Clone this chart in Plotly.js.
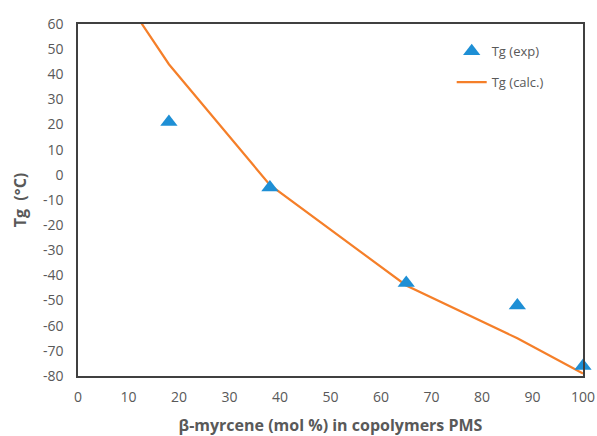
<!DOCTYPE html>
<html><head><meta charset="utf-8">
<script src="https://cdn.plot.ly/plotly-3.0.1.min.js"></script>
<style>html,body{margin:0;padding:0;background:#fff}#chart{width:597px;height:436px}</style>
</head><body><div id="chart"></div>
<script>
// Experimental Tg
const expX = [18, 38, 65, 87, 100];
const expY = [21, -5, -43, -52, -76];
// Calculated Tg
const calcX = [0, 18, 38, 65, 87, 100];
const calcY = [98, 44, -4, -44, -65, -79];
const xTicks = [0,10,20,30,40,50,60,70,80,90,100];
const yTicks = [60,50,40,30,20,10,0,-10,-20,-30,-40,-50,-60,-70,-80];

const grey = '#595959';
const font = 'Open Sans, Liberation Sans, sans-serif';

const traces = [
  {x: calcX, y: calcY, mode: 'lines', name: 'Tg (calc.)', legendgroup: 'b', legendrank: 2,
   line: {color: '#F57F29', width: 2.2}, cliponaxis: true},
  {x: expX, y: expY, mode: 'markers', name: 'Tg (exp)', legendgroup: 'a', legendrank: 1,
   marker: {symbol: 'triangle-up', size: 15, color: '#1E8FD5'}, cliponaxis: false}
];

const layout = {
  width: 597, height: 436,
  margin: {l: 78, r: 14, t: 24, b: 60},
  paper_bgcolor: '#fff', plot_bgcolor: '#fff',
  font: {family: font, color: grey, size: 13},
  showlegend: true,
  legend: {x: 0.74, y: 0.965, xanchor: 'left', yanchor: 'top', bgcolor: 'rgba(0,0,0,0)',
           font: {size: 13, color: grey}, traceorder: 'grouped', tracegroupgap: 11},
  xaxis: {range: [0, 100], tickvals: xTicks, ticktext: xTicks.map(String), showgrid: false, zeroline: false,
          showline: true, mirror: true, linecolor: '#404040', linewidth: 1.6, ticks: '',
          ticklabelstandoff: 8, tickfont: {size: 14, color: grey},
          title: {text: 'β-myrcene (mol %) in copolymers PMS', font: {size: 16, color: grey, family: font, weight: 'bold'}, standoff: 16}},
  yaxis: {range: [-80, 60], tickvals: yTicks, ticktext: yTicks.map(String), showgrid: false, zeroline: false,
          showline: true, mirror: true, linecolor: '#404040', linewidth: 1.6, ticks: '',
          ticklabelstandoff: 10, tickfont: {size: 14, color: grey},
          title: {text: 'Tg  (°C)', font: {size: 16, color: grey, family: font, weight: 'bold'}, standoff: 12}}
};

Plotly.newPlot('chart', traces, layout, {displayModeBar: false, staticPlot: true});
</script></body></html>
